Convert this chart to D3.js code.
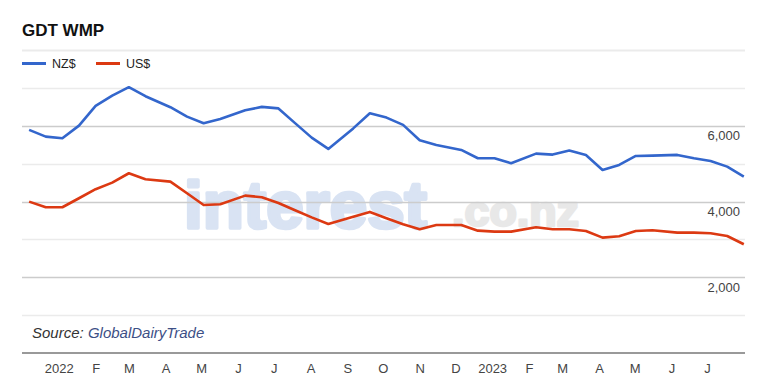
<!DOCTYPE html>
<html>
<head>
<meta charset="utf-8">
<script src="https://cdn.jsdelivr.net/npm/d3@7/dist/d3.min.js"></script>
<style>
  html, body { margin: 0; padding: 0; background: #fff; }
  svg { display: block; font-family: "Liberation Sans", Arial, sans-serif; }
</style>
</head>
<body>
<svg id="chart" width="760" height="382"></svg>
<script>
// ---- data ----
const auctionDates = [
  "2021-12-07","2021-12-21","2022-01-04","2022-01-18","2022-02-01","2022-02-15",
  "2022-03-01","2022-03-15","2022-04-05","2022-04-19","2022-05-03","2022-05-17",
  "2022-06-07","2022-06-21","2022-07-05","2022-07-19","2022-08-02","2022-08-16",
  "2022-09-06","2022-09-20","2022-10-04","2022-10-18","2022-11-01","2022-11-15",
  "2022-12-06","2022-12-20","2023-01-03","2023-01-17","2023-02-07","2023-02-21",
  "2023-03-07","2023-03-21","2023-04-04","2023-04-18","2023-05-02","2023-05-16",
  "2023-06-06","2023-06-20","2023-07-04","2023-07-18","2023-08-01"
];
const nzdValues = [
  5890, 5713, 5670, 6004, 6524, 6797,
  7018, 6780, 6490, 6241, 6067, 6180,
  6410, 6498, 6458, 6070, 5687, 5388,
  5930, 6331, 6216, 6022, 5618, 5494,
  5362, 5142, 5142, 5010, 5265, 5238,
  5344, 5230, 4834, 4966, 5203, 5212,
  5230, 5142, 5071, 4921, 4657
];
const usdValues = [
  3997, 3848, 3848, 4086, 4324, 4498,
  4746, 4588, 4525, 4218, 3909, 3927,
  4155, 4113, 3960, 3770, 3580, 3407,
  3600, 3725, 3558, 3399, 3267, 3381,
  3381, 3230, 3204, 3204, 3320, 3267,
  3267, 3222, 3046, 3082, 3222, 3240,
  3178, 3178, 3161, 3090, 2871
];
const seriesNames = ["NZ$", "US$"];
const seriesColors = ["#3366cc", "#dc3912"];
const xTickLabels = ["2022","F","M","A","M","J","J","A","S","O","N","D",
                     "2023","F","M","A","M","J","J"];
const yGridValues = [1000,2000,3000,4000,5000,6000,7000,8000];
const yLabelValues = [2000, 4000, 6000];
const xDomain = ["2021-12-01", "2023-08-02"];
const yDomain = [0, 8000];

// ---- setup ----
const parse = d3.timeParse("%Y-%m-%d");
const dates = auctionDates.map(parse);
const svg = d3.select("#chart");

const pLeft = 22, pRight = 745, pTop = 50, pBottom = 353;
const x = d3.scaleTime().domain(xDomain.map(parse)).range([pLeft, pRight]);
const y = d3.scaleLinear().domain(yDomain).range([pBottom, pTop]);

// title
svg.append("text").attr("x", 22).attr("y", 36)
  .attr("font-size", 17).attr("font-weight", "bold").attr("fill", "#111")
  .text("GDT WMP");

// watermark
const wm = svg.append("g");
wm.append("text").attr("x", 184).attr("y", 228)
  .attr("font-size", 66).attr("font-weight", "bold").attr("fill", "#d9e3f3")
  .attr("stroke", "#d9e3f3").attr("stroke-width", 3.5).attr("stroke-linejoin", "round")
  .attr("textLength", 243).attr("lengthAdjust", "spacingAndGlyphs")
  .text("interest");
wm.append("text").attr("x", 452).attr("y", 226)
  .attr("font-size", 42).attr("font-weight", "bold").attr("fill", "#e8e8e8")
  .attr("stroke", "#e8e8e8").attr("stroke-width", 2.5).attr("stroke-linejoin", "round")
  .attr("textLength", 127).attr("lengthAdjust", "spacingAndGlyphs")
  .text(".co.nz");

// gridlines
svg.append("g").selectAll("line").data(yGridValues).join("line")
  .attr("x1", pLeft).attr("x2", pRight)
  .attr("y1", d => Math.round(y(d)) + 0.5).attr("y2", d => Math.round(y(d)) + 0.5)
  .attr("stroke", d => (yLabelValues.includes(d) ? "#cccccc" : "#ebebeb"))
  .attr("stroke-width", d => d === 8000 ? 2 : 1.5);

// baseline
svg.append("line").attr("x1", pLeft).attr("x2", pRight)
  .attr("y1", pBottom).attr("y2", pBottom)
  .attr("stroke", "#777").attr("stroke-width", 1.5);

// y labels
svg.append("g").selectAll("text").data(yLabelValues).join("text")
  .attr("x", 740).attr("y", d => y(d) + 14.5)
  .attr("text-anchor", "end").attr("font-size", 13).attr("fill", "#444")
  .text(d3.format(","));

// x axis
const monthTicks = d3.timeMonth.range(parse("2022-01-01"), parse("2023-08-01"));
const xAxis = d3.axisBottom(x).tickValues(monthTicks)
  .tickFormat((d, i) => xTickLabels[i]).tickSize(0).tickPadding(0);
const gx = svg.append("g").attr("transform", `translate(0,${pBottom})`).call(xAxis);
gx.select(".domain").remove();
gx.selectAll("text").attr("font-size", 13).attr("fill", "#444")
  .attr("font-family", "Liberation Sans, Arial, sans-serif")
  .attr("dy", null).attr("y", 20);

// source
const src = svg.append("text").attr("x", 32).attr("y", 338)
  .attr("font-size", 15).attr("font-style", "italic");
src.append("tspan").attr("fill", "#333").text("Source: ");
src.append("tspan").attr("fill", "#3d4f86").text("GlobalDairyTrade");

// lines
const line = d3.line().x((d, i) => x(dates[i])).y(d => y(d));
[nzdValues, usdValues].forEach((vals, k) => {
  svg.append("path").datum(vals)
    .attr("fill", "none").attr("stroke", seriesColors[k])
    .attr("stroke-width", 2.6).attr("stroke-linejoin", "round")
    .attr("d", line);
});

// legend
const legendX = [22, 96];
seriesNames.forEach((name, k) => {
  const g = svg.append("g").attr("transform", `translate(${legendX[k]},63.5)`);
  g.append("line").attr("x1", 0).attr("x2", 24).attr("y1", 0).attr("y2", 0)
    .attr("stroke", seriesColors[k]).attr("stroke-width", 3);
  g.append("text").attr("x", 30).attr("y", 4.5).attr("font-size", 12.5)
    .attr("fill", "#222").text(name);
});
</script>
</body>
</html>
